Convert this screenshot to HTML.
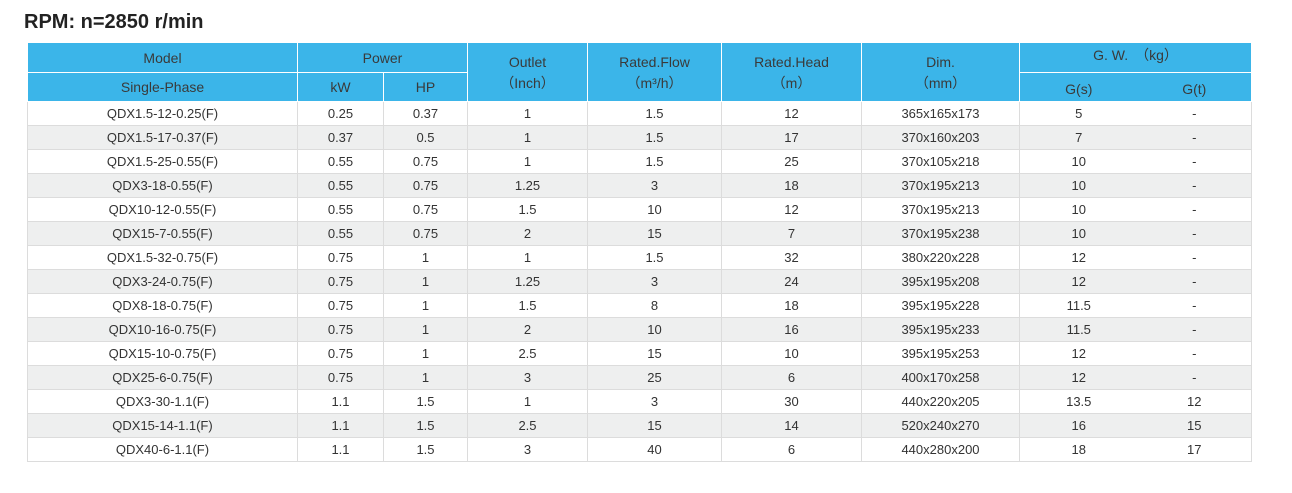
<!DOCTYPE html>
<html><head><meta charset="utf-8"><style>
body{margin:0;background:#fff;width:1292px;height:493px;overflow:hidden;font-family:"Liberation Sans","Noto Sans CJK SC",sans-serif;}
.t{position:absolute;left:24px;top:11px;font-size:20px;font-weight:bold;color:#222;}
table{position:absolute;left:27px;top:42px;border-collapse:collapse;table-layout:fixed;}
td{border:1px solid #dcdcdc;height:23px;padding:0;text-align:center;font-size:13px;color:#333;}
tr.h td{background:#3bb5e9;border-color:#fff;color:#3a3a3a;font-size:14px;}
tr.h td.r{line-height:21px;padding-top:2px;}
tr.a td{background:#eeefef;}
</style></head><body>
<div class="t">RPM: n=2850 r/min</div>
<table>
<colgroup><col style="width:270px"><col style="width:86px"><col style="width:84px"><col style="width:120px"><col style="width:134px"><col style="width:140px"><col style="width:158px"><col style="width:118px"><col style="width:114px"></colgroup>
<tr class="h"><td style="height:28px">Model</td><td colspan="2">Power</td><td rowspan="2" class="r">Outlet<br>（Inch）</td><td rowspan="2" class="r">Rated.Flow<br>（m³/h）</td><td rowspan="2" class="r">Rated.Head<br>（m）</td><td rowspan="2" class="r">Dim.<br>（mm）</td><td colspan="2" style="padding-bottom:6px">G. W.　（kg）</td></tr>
<tr class="h"><td style="height:28px">Single-Phase</td><td>kW</td><td>HP</td><td style="border-right:none;padding-top:3px">G(s)</td><td style="border-left:none;padding-top:3px">G(t)</td></tr>
<tr><td>QDX1.5-12-0.25(F)</td><td>0.25</td><td>0.37</td><td>1</td><td>1.5</td><td>12</td><td>365x165x173</td><td style="border-right:none">5</td><td style="border-left:none">-</td></tr>
<tr class="a"><td>QDX1.5-17-0.37(F)</td><td>0.37</td><td>0.5</td><td>1</td><td>1.5</td><td>17</td><td>370x160x203</td><td style="border-right:none">7</td><td style="border-left:none">-</td></tr>
<tr><td>QDX1.5-25-0.55(F)</td><td>0.55</td><td>0.75</td><td>1</td><td>1.5</td><td>25</td><td>370x105x218</td><td style="border-right:none">10</td><td style="border-left:none">-</td></tr>
<tr class="a"><td>QDX3-18-0.55(F)</td><td>0.55</td><td>0.75</td><td>1.25</td><td>3</td><td>18</td><td>370x195x213</td><td style="border-right:none">10</td><td style="border-left:none">-</td></tr>
<tr><td>QDX10-12-0.55(F)</td><td>0.55</td><td>0.75</td><td>1.5</td><td>10</td><td>12</td><td>370x195x213</td><td style="border-right:none">10</td><td style="border-left:none">-</td></tr>
<tr class="a"><td>QDX15-7-0.55(F)</td><td>0.55</td><td>0.75</td><td>2</td><td>15</td><td>7</td><td>370x195x238</td><td style="border-right:none">10</td><td style="border-left:none">-</td></tr>
<tr><td>QDX1.5-32-0.75(F)</td><td>0.75</td><td>1</td><td>1</td><td>1.5</td><td>32</td><td>380x220x228</td><td style="border-right:none">12</td><td style="border-left:none">-</td></tr>
<tr class="a"><td>QDX3-24-0.75(F)</td><td>0.75</td><td>1</td><td>1.25</td><td>3</td><td>24</td><td>395x195x208</td><td style="border-right:none">12</td><td style="border-left:none">-</td></tr>
<tr><td>QDX8-18-0.75(F)</td><td>0.75</td><td>1</td><td>1.5</td><td>8</td><td>18</td><td>395x195x228</td><td style="border-right:none">11.5</td><td style="border-left:none">-</td></tr>
<tr class="a"><td>QDX10-16-0.75(F)</td><td>0.75</td><td>1</td><td>2</td><td>10</td><td>16</td><td>395x195x233</td><td style="border-right:none">11.5</td><td style="border-left:none">-</td></tr>
<tr><td>QDX15-10-0.75(F)</td><td>0.75</td><td>1</td><td>2.5</td><td>15</td><td>10</td><td>395x195x253</td><td style="border-right:none">12</td><td style="border-left:none">-</td></tr>
<tr class="a"><td>QDX25-6-0.75(F)</td><td>0.75</td><td>1</td><td>3</td><td>25</td><td>6</td><td>400x170x258</td><td style="border-right:none">12</td><td style="border-left:none">-</td></tr>
<tr><td>QDX3-30-1.1(F)</td><td>1.1</td><td>1.5</td><td>1</td><td>3</td><td>30</td><td>440x220x205</td><td style="border-right:none">13.5</td><td style="border-left:none">12</td></tr>
<tr class="a"><td>QDX15-14-1.1(F)</td><td>1.1</td><td>1.5</td><td>2.5</td><td>15</td><td>14</td><td>520x240x270</td><td style="border-right:none">16</td><td style="border-left:none">15</td></tr>
<tr><td>QDX40-6-1.1(F)</td><td>1.1</td><td>1.5</td><td>3</td><td>40</td><td>6</td><td>440x280x200</td><td style="border-right:none">18</td><td style="border-left:none">17</td></tr>
</table>
</body></html>
